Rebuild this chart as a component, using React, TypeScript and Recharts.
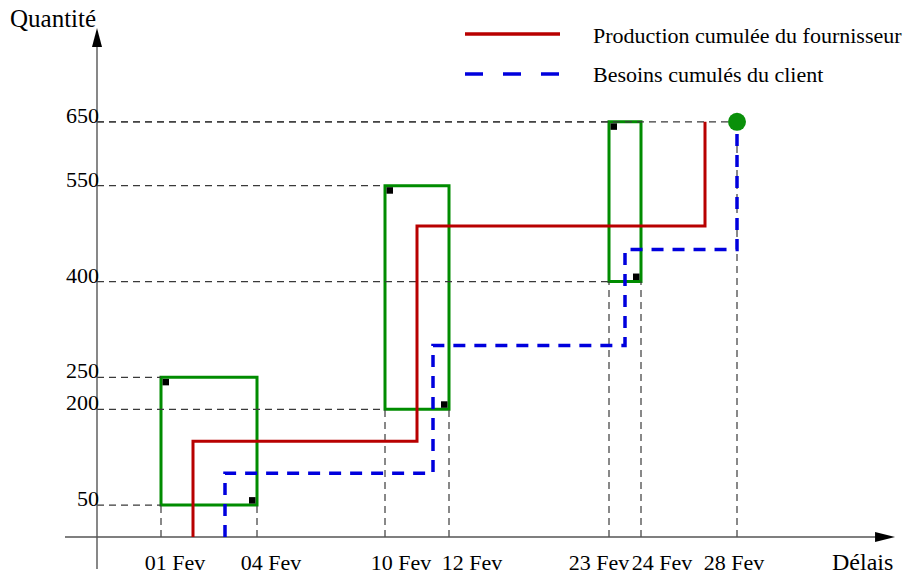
import {
  ComposedChart,
  Line,
  Scatter,
  XAxis,
  YAxis,
  ReferenceLine,
  ReferenceArea,
  ReferenceDot,
  Legend,
} from "recharts";

// x is measured in "slots" (the date axis is not linear in days)
const dayLabels = ["01 Fev", "04 Fev", "10 Fev", "12 Fev", "23 Fev", "24 Fev", "28 Fev"];
const daySlots = [2, 5, 9, 11, 16, 17, 20];
const quantityTicks = [50, 200, 250, 400, 550, 650];

const seriesNames = ["Production cumulée du fournisseur", "Besoins cumulés du client"];

// cumulative supplier production (step corners)
const productionSlots = [3, 3, 10, 10, 19, 19];
const productionQty = [0, 150, 150, 487, 487, 650];

// cumulative client demand (step corners)
const demandSlots = [4, 4, 10.5, 10.5, 16.5, 16.5, 20, 20];
const demandQty = [0, 100, 100, 300, 300, 450, 450, 650];

// tolerance windows
const windowFrom = [2, 9, 16];
const windowTo = [5, 11, 17];
const windowLow = [50, 200, 400];
const windowHigh = [250, 550, 650];

const finalSlot = 20;
const finalQty = 650;

const productionData = productionSlots.map((slot, i) => ({ slot, qty: productionQty[i] }));
const demandData = demandSlots.map((slot, i) => ({ slot, qty: demandQty[i] }));
const topLeftCorners = windowFrom.map((slot, i) => ({ slot, qty: windowHigh[i] }));
const bottomRightCorners = windowTo.map((slot, i) => ({ slot, qty: windowLow[i] }));
const finalPoint = [{ slot: finalSlot, qty: finalQty }];

// guides from the axes to the windows
const hGuides = [
  ...windowFrom.flatMap((slot, i) => [
    { qty: windowHigh[i], slot },
    { qty: windowLow[i], slot },
  ]),
  { qty: finalQty, slot: finalSlot },
];
const vGuides = [
  ...windowFrom.map((slot, i) => ({ slot, qty: windowLow[i] })),
  ...windowTo.map((slot, i) => ({ slot, qty: windowLow[i] })),
  { slot: finalSlot, qty: finalQty },
];

const FONT = '"Liberation Serif", "Times New Roman", serif';
const RED = "#b80000";
const BLUE = "#0000dd";
const GREEN = "#008c00";
const GUIDE = "#3a3a3a";
const AXIS = "#555";
const X_END = 24.94;
const Y_TOP = 797;

const DAY_DX: Record<string, number> = {
  "01 Fev": 14,
  "04 Fev": 14,
  "10 Fev": 16,
  "12 Fev": 23,
  "23 Fev": -10,
  "24 Fev": 21,
  "28 Fev": -3,
};

function DayTick(props: any) {
  const { x, y, payload } = props;
  const label = dayLabels[daySlots.indexOf(payload.value)];
  return (
    <text x={x + DAY_DX[label]} y={y + 1} textAnchor="middle" fontFamily={FONT} fontSize={22} fill="#000">
      {label}
    </text>
  );
}

function QtyTick(props: any) {
  const { x, y, payload } = props;
  return (
    <text x={x + 34} y={y + 1} textAnchor="end" fontFamily={FONT} fontSize={22} fill="#000">
      {payload.value}
    </text>
  );
}

function LegendContent(props: any) {
  const items = (props.payload || [])
    .filter((p: any) => seriesNames.includes(p.value))
    .sort((a: any, b: any) => seriesNames.indexOf(a.value) - seriesNames.indexOf(b.value));
  return (
    <svg width={467} height={95}>
      {items.map((item: any, i: number) => (
        <g key={item.value}>
          <line
            x1={25}
            x2={120}
            y1={34 + 40 * i}
            y2={34 + 40 * i}
            stroke={item.color}
            strokeWidth={3.5}
            strokeDasharray={item.payload && item.payload.strokeDasharray ? "18 20" : undefined}
          />
          <text x={153} y={43 + 39 * i} fontFamily={FONT} fontSize={22} fill="#000">
            {item.value}
          </text>
        </g>
      ))}
    </svg>
  );
}

export default function App() {
  return (
    <div style={{ position: "absolute", left: 0, top: 0, background: "#fff" }}>
      <ComposedChart width={907} height={574} margin={{ top: 26, right: 10, bottom: 0, left: 0 }}>
        <XAxis
          type="number"
          dataKey="slot"
          domain={[-1, 25]}
          ticks={daySlots}
          interval={0}
          height={5}
          axisLine={false}
          tickLine={false}
          tickSize={0}
          tickMargin={0}
          allowDataOverflow
          tick={(p: any) => <DayTick {...p} />}
        />
        <YAxis
          type="number"
          dataKey="qty"
          domain={[-50, 800]}
          ticks={quantityTicks}
          interval={0}
          width={65}
          axisLine={false}
          tickLine={false}
          tickSize={0}
          tickMargin={0}
          allowDataOverflow
          tick={(p: any) => <QtyTick {...p} />}
        />
        <Legend
          layout="horizontal"
          verticalAlign="middle"
          align="center"
          wrapperStyle={{ position: "absolute", top: 0, left: 440, width: 467, height: 95 }}
          content={<LegendContent />}
        />

        {hGuides.map((g, i) => (
          <ReferenceLine
            key={`h-${i}`}
            segment={[{ x: 0, y: g.qty }, { x: g.slot, y: g.qty }]}
            stroke={GUIDE}
            strokeWidth={1.2}
            strokeDasharray="7 5"
          />
        ))}
        {vGuides.map((g, i) => (
          <ReferenceLine
            key={`v-${i}`}
            segment={[{ x: g.slot, y: 0 }, { x: g.slot, y: g.qty }]}
            stroke={GUIDE}
            strokeWidth={1.2}
            strokeDasharray="7 5"
          />
        ))}

        <ReferenceLine segment={[{ x: 0, y: -50 }, { x: 0, y: Y_TOP - 10 }]} stroke={AXIS} strokeWidth={1.4} />
        <ReferenceLine segment={[{ x: -1, y: 0 }, { x: X_END - 0.3, y: 0 }]} stroke={AXIS} strokeWidth={1.4} />
        <ReferenceDot
          x={X_END}
          y={0}
          r={1}
          shape={(p: any) => (
            <polygon points={`${p.cx},${p.cy} ${p.cx - 20},${p.cy - 5} ${p.cx - 20},${p.cy + 5}`} fill="#000" />
          )}
        />
        <ReferenceDot
          x={0}
          y={Y_TOP}
          r={1}
          shape={(p: any) => (
            <polygon points={`${p.cx},${p.cy} ${p.cx - 5},${p.cy + 19} ${p.cx + 5},${p.cy + 19}`} fill="#000" />
          )}
        />

        <Line
          data={productionData}
          dataKey="qty"
          name={seriesNames[0]}
          type="linear"
          stroke={RED}
          strokeWidth={3}
          dot={false}
          activeDot={false}
          isAnimationActive={false}
        />
        <Line
          data={demandData}
          dataKey="qty"
          name={seriesNames[1]}
          type="linear"
          stroke={BLUE}
          strokeWidth={3.5}
          strokeDasharray="12 9"
          dot={false}
          activeDot={false}
          isAnimationActive={false}
        />

        {windowFrom.map((from, i) => (
          <ReferenceArea
            key={`w-${i}`}
            x1={from}
            x2={windowTo[i]}
            y1={windowLow[i]}
            y2={windowHigh[i]}
            fill="none"
            stroke={GREEN}
            strokeWidth={3}
          />
        ))}

        <Scatter
          data={topLeftCorners}
          legendType="none"
          isAnimationActive={false}
          shape={(p: any) => <rect x={p.cx + 1.5} y={p.cy + 1.5} width={6.5} height={6.5} fill="#000" />}
        />
        <Scatter
          data={bottomRightCorners}
          legendType="none"
          isAnimationActive={false}
          shape={(p: any) => <rect x={p.cx - 8} y={p.cy - 8} width={6.5} height={6.5} fill="#000" />}
        />
        <Scatter
          data={finalPoint}
          legendType="none"
          isAnimationActive={false}
          shape={(p: any) => <circle cx={p.cx} cy={p.cy} r={9} fill="#0a900a" />}
        />

        <text x={10} y={27} fontFamily={FONT} fontSize={25} fill="#000">
          Quantité
        </text>
        <text x={832} y={570} fontFamily={FONT} fontSize={24} fill="#000">
          Délais
        </text>
      </ComposedChart>
    </div>
  );
}
